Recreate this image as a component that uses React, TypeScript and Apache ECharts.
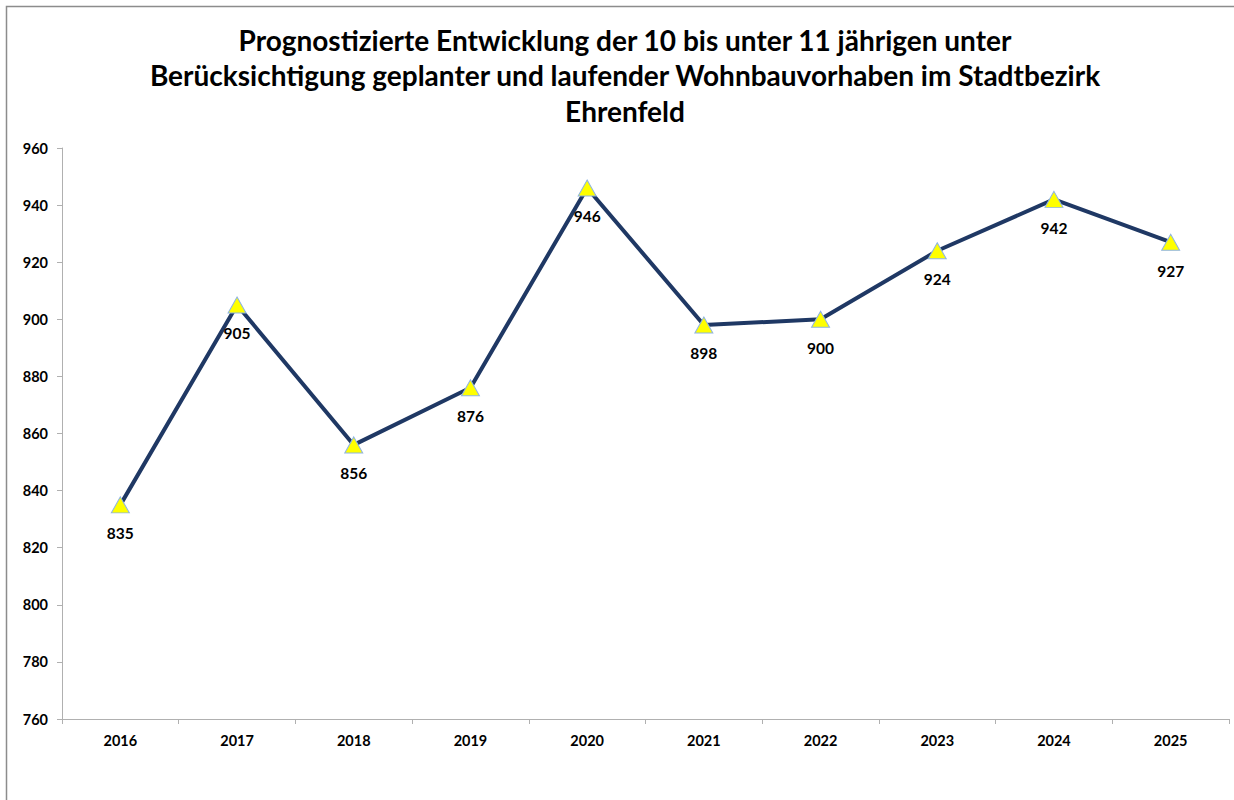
import React, { useEffect, useRef } from "react";
import * as echarts from "echarts";

const titleText =
  "Prognostizierte Entwicklung der 10 bis unter 11 jährigen unter\nBerücksichtigung geplanter und laufender Wohnbauvorhaben im Stadtbezirk\nEhrenfeld";
const years = ["2016", "2017", "2018", "2019", "2020", "2021", "2022", "2023", "2024", "2025"];
const values = [835, 905, 856, 876, 946, 898, 900, 924, 942, 927];

const FONT = "Lato, 'Open Sans', 'DejaVu Sans', sans-serif";

export default function App() {
  const ref = useRef<HTMLDivElement>(null);
  useEffect(() => {
    if (!ref.current) return;
    const chart = echarts.init(ref.current, null, { renderer: "svg" });
    chart.setOption({
      animation: false,
      backgroundColor: "#ffffff",
      graphic: [
        {
          type: "rect",
          shape: { x: 6.5, y: 6.5, width: 1300, height: 900 },
          style: { fill: "none", stroke: "#8c8c8c", lineWidth: 1.5 },
          silent: true,
        },
      ],
      title: {
        text: titleText,
        left: 620,
        textAlign: "center",
        top: 17,
        textStyle: {
          fontFamily: FONT,
          fontWeight: "bold",
          fontSize: 28,
          lineHeight: 35.5,
          color: "#000000",
        },
      },
      grid: { left: 62, right: 5, top: 148, bottom: 81, containLabel: false },
      xAxis: {
        type: "category",
        data: years,
        boundaryGap: true,
        axisLine: { lineStyle: { color: "#b0b0b0", width: 1 } },
        axisTick: { show: true, alignWithLabel: false, length: 5, lineStyle: { color: "#b0b0b0" } },
        axisLabel: {
          fontFamily: FONT,
          fontWeight: "bold",
          fontSize: 14.5,
          color: "#000000",
          margin: 14,
        },
        splitLine: { show: false },
      },
      yAxis: {
        type: "value",
        min: 760,
        max: 960,
        interval: 20,
        axisLine: { show: true, lineStyle: { color: "#b0b0b0", width: 1 } },
        axisTick: { show: true, length: 5, lineStyle: { color: "#b0b0b0" } },
        axisLabel: {
          fontFamily: FONT,
          fontWeight: "bold",
          fontSize: 14.5,
          color: "#000000",
          margin: 14,
        },
        splitLine: { show: false },
      },
      series: [
        {
          type: "line",
          data: values,
          symbol: "triangle",
          symbolSize: [18, 16],
          lineStyle: { color: "#1f3864", width: 4 },
          itemStyle: { color: "#ffff00", borderColor: "#8eb4e3", borderWidth: 1 },
          label: {
            show: true,
            position: "bottom",
            distance: 12,
            fontFamily: FONT,
            fontWeight: "bold",
            fontSize: 15.5,
            color: "#000000",
          },
          z: 3,
        },
      ],
    });
    return () => chart.dispose();
  }, []);
  return (
    <div
      ref={ref}
      style={{ position: "fixed", left: 0, top: 0, width: 1234, height: 800, background: "#fff" }}
    />
  );
}
